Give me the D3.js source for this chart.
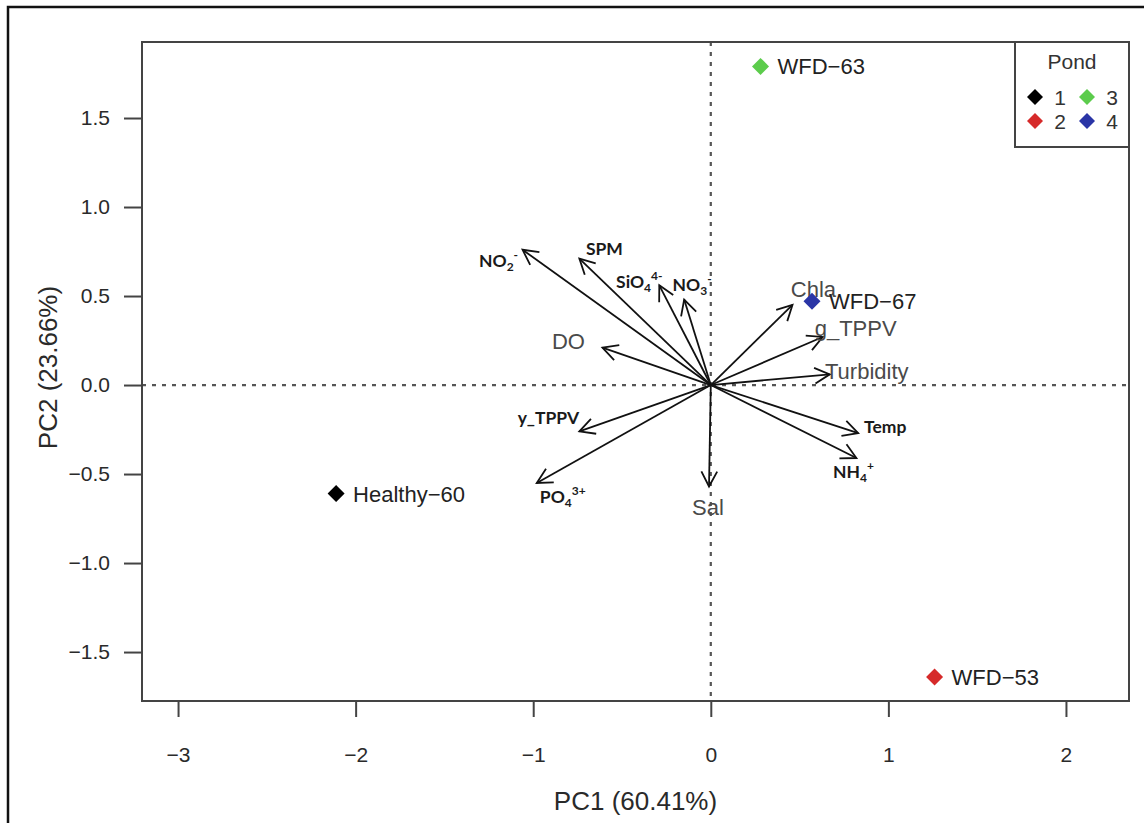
<!DOCTYPE html>
<html>
<head>
<meta charset="utf-8">
<script src="https://cdn.jsdelivr.net/npm/d3@7"></script>
<style>
  html, body { margin: 0; padding: 0; background: #fff; }
  svg { display: block; }
</style>
</head>
<body>
<svg id="chart" width="1144" height="823"></svg>
<script>
// ---------- data ----------
const sampleNames = ["Healthy-60", "WFD-53", "WFD-63", "WFD-67"];
const samplePC1   = [-2.11, 1.26, 0.28, 0.57];
const samplePC2   = [-0.61, -1.64, 1.79, 0.47];
const samplePond  = [1, 2, 3, 4];

const varNames = ["NO2-", "SPM", "SiO4", "NO3", "DO", "Chla", "g_TPPV", "Turbidity", "Temp", "NH4", "y_TPPV", "PO4", "Sal"];
const varPC1   = [-1.06, -0.74, -0.29, -0.15, -0.61, 0.46, 0.63, 0.67, 0.83, 0.82, -0.74, -0.98, -0.01];
const varPC2   = [0.76, 0.71, 0.56, 0.48, 0.21, 0.45, 0.27, 0.06, -0.27, -0.41, -0.26, -0.55, -0.57];
// label parts: [text, kind] with kind "", "sub", "sup"
const varLabelParts = [
  [["NO",""],["2","sub"],["-","sup"]],
  [["SPM",""]],
  [["SiO",""],["4","sub"],["4-","sup"]],
  [["NO",""],["3","sub"],["-","sup"]],
  [["DO",""]],
  [["Chla",""]],
  [["g_TPPV",""]],
  [["Turbidity",""]],
  [["Temp",""]],
  [["NH",""],["4","sub"],["+","sup"]],
  [["y_TPPV",""]],
  [["PO",""],["4","sub"],["3+","sup"]],
  [["Sal",""]]
];
// label style: "r" = plain R text (grey), "b" = bold inserted text
const varLabelStyle = ["b","b","b","b","r","r","r","r","b","b","b","b","r"];

const xTicks = [-3, -2, -1, 0, 1, 2];
const yTicks = [-1.5, -1.0, -0.5, 0.0, 0.5, 1.0, 1.5];
const pondLevels = [1, 2, 3, 4];
const pondColors = ["#000000", "#d62a2a", "#5ccc4c", "#2a35a6"];
const xTitle = "PC1 (60.41%)";
const yTitle = "PC2 (23.66%)";
const legendTitle = "Pond";

// ---------- layout ----------
const L = 142, R = 1129, T = 42, B = 701;
const svg = d3.select("#chart");
const x = d3.scaleLinear().domain([-3.203, 2.355]).range([L, R]);
const y = d3.scaleLinear().domain([-1.775, 1.927]).range([B, T]);
const color = d3.scaleOrdinal().domain(pondLevels).range(pondColors);
const helv = "'Liberation Sans', Arial, Helvetica, sans-serif";
const cal = "Lato, 'Open Sans', sans-serif";

// outer frame (left + top)
svg.append("path").attr("d", `M8,823 L8,7 L1144,7`).attr("fill", "none")
  .attr("stroke", "#111").attr("stroke-width", 2.5);

// dashed zero lines
svg.append("line").attr("x1", x(0)).attr("x2", x(0)).attr("y1", T).attr("y2", B)
  .attr("stroke", "#555").attr("stroke-width", 2.2).attr("stroke-dasharray", "4,6");
svg.append("line").attr("x1", L).attr("x2", R).attr("y1", y(0)).attr("y2", y(0))
  .attr("stroke", "#555").attr("stroke-width", 2.2).attr("stroke-dasharray", "4,6");

// axes
const xAxis = svg.append("g").attr("transform", `translate(0,${B})`)
  .call(d3.axisBottom(x).tickValues(xTicks).tickSize(16).tickPadding(30).tickFormat(d => d3.format("d")(d).replace("-", "\u2212")));
const yAxis = svg.append("g").attr("transform", `translate(${L},0)`)
  .call(d3.axisLeft(y).tickValues(yTicks).tickSize(18).tickPadding(14).tickFormat(d => d3.format(".1f")(d).replace("-", "\u2212")));
[xAxis, yAxis].forEach(g => {
  g.select(".domain").remove();
  g.selectAll(".tick line").attr("stroke", "#444").attr("stroke-width", 2);
  g.selectAll(".tick text").attr("fill", "#2a2a2a").style("font-family", helv).style("font-size", "21px");
});

// plot box
svg.append("rect").attr("x", L).attr("y", T).attr("width", R - L).attr("height", B - T)
  .attr("fill", "none").attr("stroke", "#444").attr("stroke-width", 2);

// axis titles
svg.append("text").attr("x", (L + R) / 2).attr("y", 810).attr("text-anchor", "middle")
  .attr("fill", "#2a2a2a").style("font-family", helv).style("font-size", "26px").text(xTitle);
svg.append("text").attr("transform", `translate(57,${(T + B) / 2 - 4}) rotate(-90)`).attr("text-anchor", "middle")
  .attr("fill", "#2a2a2a").style("font-family", helv).style("font-size", "26px").text(yTitle);

// arrows
const vars = varNames.map((n, i) => ({ name: n, px: varPC1[i], py: varPC2[i], parts: varLabelParts[i], style: varLabelStyle[i] }));
const ag = svg.append("g");
const ox = x(0), oy = y(0);
vars.forEach(v => {
  const tx = x(v.px), ty = y(v.py);
  ag.append("line").attr("x1", ox).attr("y1", oy).attr("x2", tx).attr("y2", ty)
    .attr("stroke", "#111").attr("stroke-width", 1.8);
  const ang = Math.atan2(ty - oy, tx - ox);
  const hl = 17, ha = Math.PI / 6.5;
  const p1 = [tx - hl * Math.cos(ang - ha), ty - hl * Math.sin(ang - ha)];
  const p2 = [tx - hl * Math.cos(ang + ha), ty - hl * Math.sin(ang + ha)];
  ag.append("path").attr("d", `M${p1[0]},${p1[1]} L${tx},${ty} L${p2[0]},${p2[1]}`)
    .attr("fill", "none").attr("stroke", "#111").attr("stroke-width", 1.8);
});

// arrow labels (pixel offsets of label centre from arrow tip)
const labelOffsets = {
  "NO2-": [-24, 11], "SPM": [25, -10], "SiO4": [-20, -4], "NO3": [8, -15], "DO": [-34, -7],
  "Chla": [21, -16], "g_TPPV": [33, -9], "Turbidity": [37, -3], "Temp": [27, -6],
  "NH4": [-3, 14], "y_TPPV": [-31, -14], "PO4": [26, 14], "Sal": [-1, 21]
};
vars.forEach(v => {
  const off = labelOffsets[v.name];
  const cx = x(v.px) + off[0], cy = y(v.py) + off[1];
  const isR = v.style === "r";
  const fs = isR ? 22 : 17.5;
  const t = svg.append("text").attr("x", cx).attr("y", cy + fs * 0.36).attr("text-anchor", "middle")
    .attr("fill", isR ? "#4a4a4a" : "#1a1a1a")
    .style("font-family", isR ? helv : cal).style("font-weight", isR ? "normal" : "bold")
    .style("font-size", fs + "px");
  let shift = 0;
  v.parts.forEach(([s, k]) => {
    const ts = t.append("tspan").text(s);
    if (k === "sub") { ts.attr("dy", 4 - shift).style("font-size", "12px"); shift = 4; }
    else if (k === "sup") { ts.attr("dy", -8 - shift).style("font-size", "12px"); shift = -8; }
    else { if (shift) ts.attr("dy", -shift); shift = 0; }
  });
});

// samples
const diamond = h => `M0,${-h} L${h},0 L0,${h} L${-h},0 Z`;
const samples = sampleNames.map((n, i) => ({ name: n, px: samplePC1[i], py: samplePC2[i], pond: samplePond[i] }));
svg.selectAll(".pt").data(samples).enter().append("path").attr("class", "pt")
  .attr("transform", d => `translate(${x(d.px)},${y(d.py)})`)
  .attr("d", diamond(8.5)).attr("fill", d => color(d.pond));
svg.selectAll(".ptl").data(samples).enter().append("text").attr("class", "ptl")
  .attr("x", d => x(d.px) + 17).attr("y", d => y(d.py) + 8)
  .attr("fill", "#222").style("font-family", helv).style("font-size", "22px")
  .text(d => d.name.replace("-", "\u2212"));

// legend
const lg = svg.append("g");
lg.append("rect").attr("x", 1015).attr("y", T).attr("width", R - 1015).attr("height", 105)
  .attr("fill", "#fff").attr("stroke", "#444").attr("stroke-width", 2);
lg.append("text").attr("x", 1072).attr("y", 69).attr("text-anchor", "middle").attr("fill", "#333")
  .style("font-family", helv).style("font-size", "21px").text(legendTitle);
pondLevels.forEach((p, i) => {
  const col = Math.floor(i / 2), row = i % 2;
  const sx = 1035 + col * 52, sy = 97 + row * 24;
  lg.append("path").attr("transform", `translate(${sx},${sy})`).attr("d", diamond(8)).attr("fill", color(p));
  lg.append("text").attr("x", sx + 25).attr("y", sy + 7.5).attr("text-anchor", "middle").attr("fill", "#333")
    .style("font-family", helv).style("font-size", "21px").text(p);
});
</script>
</body>
</html>
